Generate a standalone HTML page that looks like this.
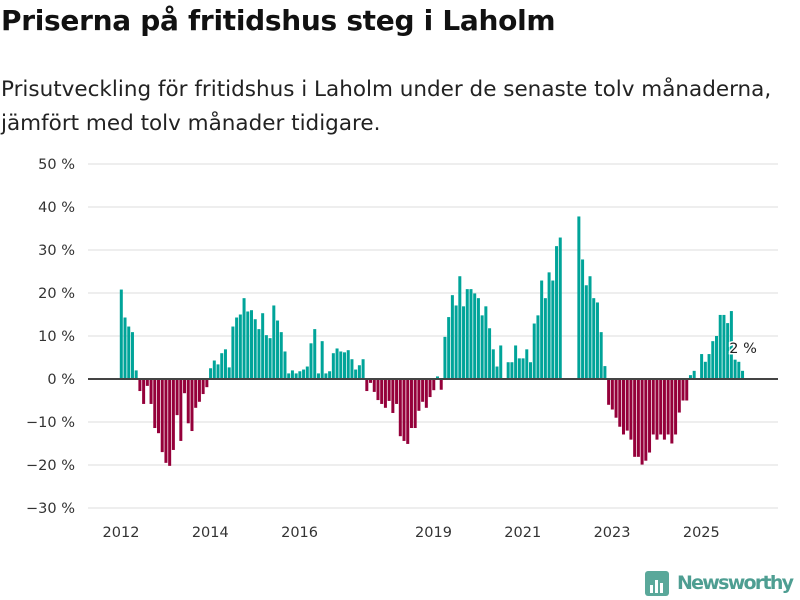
<!DOCTYPE html>
<html><head><meta charset="utf-8">
<style>
body{margin:0;width:800px;height:600px;background:#fff;font-family:"DejaVu Sans",sans-serif;overflow:hidden;position:relative}
h1{position:absolute;left:1px;top:4px;margin:0;font-size:28px;font-weight:bold;color:#111;letter-spacing:-0.3px}
p{position:absolute;left:1px;top:73px;margin:0;font-size:21.5px;line-height:34px;color:#222;width:790px;letter-spacing:0px}
</style></head><body>
<h1>Priserna på fritidshus steg i Laholm</h1>
<p>Prisutveckling för fritidshus i Laholm under de senaste tolv månaderna, jämfört med tolv månader tidigare.</p>
<svg id="chart" width="800" height="600" style="position:absolute;left:0;top:0"></svg>
<script>
const yTicks=[50,40,30,20,10,0,-10,-20,-30];
const xTickYears=[2012,2014,2016,2019,2021,2023,2025];
const startYear=2012;
const values=[20.8,14.3,12.2,10.9,2.0,-2.8,-5.8,-1.6,-5.8,-11.4,-12.6,-17,
-19.5,-20.2,-16.5,-8.4,-14.4,-3.3,-10.3,-12.1,-6.7,-5.3,-3.5,-1.9,
2.5,4.3,3.4,6.0,6.9,2.7,12.2,14.3,15.0,18.8,15.7,16.0,
13.9,11.6,15.3,10.2,9.5,17.1,13.6,10.9,6.4,1.3,2.0,1.3,
1.8,2.2,2.9,8.3,11.6,1.3,8.8,1.3,1.8,6.0,7.1,6.4,
6.2,6.7,4.6,2.2,3.2,4.6,-2.8,-0.9,-3.0,-4.9,-5.8,-6.7,
-5.1,-7.9,-5.8,-13.3,-14.4,-15.1,-11.4,-11.4,-7.4,-5.3,-6.7,-4.2,
-2.6,0.6,-2.5,9.8,14.4,19.5,17.1,23.9,16.9,20.9,20.9,19.9,
18.8,14.8,16.9,11.8,6.9,2.9,7.8,null,3.9,3.9,7.8,4.8,
4.8,6.9,3.9,12.9,14.8,22.9,18.8,24.8,22.9,30.9,32.9,null,
null,null,null,37.8,27.8,21.8,23.9,18.8,17.8,10.9,3.0,-6.0,
-7.1,-9.0,-11.1,-12.9,-12.0,-14.1,-18.1,-18.1,-19.9,-19.0,-17.1,-12.9,
-14.1,-12.9,-14.1,-12.9,-15.0,-12.9,-7.8,-5.0,-5.0,0.9,1.9,null,
5.8,4.0,5.8,8.8,10.0,14.9,14.9,13.0,15.8,4.5,4.0,1.9];
const lastLabel="2 %";
const svg=document.getElementById('chart');
const NS='http://www.w3.org/2000/svg';
const y0=379, pxPer=4.3, x0=121, step=3.72;
const yS=v=>y0-v*pxPer;
const xS=i=>x0+i*step;
const FF='DejaVu Sans, sans-serif';
function mk(t,a){const e=document.createElementNS(NS,t);for(const k in a)e.setAttribute(k,a[k]);svg.appendChild(e);return e;}
yTicks.forEach(t=>{
  const g=mk('line',{x1:88,x2:778,y1:yS(t),y2:yS(t),stroke:'#dedede','stroke-width':1});
  
  
  const l=mk('text',{x:75,y:yS(t)+5,'text-anchor':'end','font-size':14.5,fill:'#333','font-family':FF});
  l.textContent=(t<0?'\u2212'+(-t):t)+' %';
  
  
});
values.forEach((v,i)=>{
  if(v===null)return;
  const top=v>=0?yS(v):y0, h=Math.abs(v)*pxPer;
  const r=mk('rect',{x:xS(i)-1.2,y:top,width:3,height:h,fill:v>=0?'#00a499':'#95003a'});
  
  
});
const z=mk('line',{x1:88,x2:778,y1:y0,y2:y0,stroke:'#444','stroke-width':2});


xTickYears.forEach(yr=>{
  const x=xS((yr-startYear)*12);
  const l=mk('text',{x:x,y:537,'text-anchor':'middle','font-size':14.5,fill:'#333','font-family':FF});
  l.textContent=yr;
  
  
});
const li=values.length-1;
const lab=mk('text',{x:xS(li)-13,y:yS(values[li])-18,'font-size':14.5,fill:'#222',stroke:'#fff','stroke-width':3,'paint-order':'stroke','font-family':FF});
lab.textContent=lastLabel;


const lg=mk('g',{});


const ic=document.createElementNS(NS,'rect');
ic.setAttribute('x',645);ic.setAttribute('y',571);ic.setAttribute('width',24);ic.setAttribute('height',25);ic.setAttribute('rx',3);ic.setAttribute('fill','#5aa89a');lg.appendChild(ic);
[[650,585,3,8],[655,580,3,13],[660,583,3,10]].forEach(b=>{const r=document.createElementNS(NS,'rect');r.setAttribute('x',b[0]);r.setAttribute('y',b[1]);r.setAttribute('width',b[2]);r.setAttribute('height',b[3]);r.setAttribute('fill','#fff');lg.appendChild(r);});
const lt=document.createElementNS(NS,'text');
lt.setAttribute('x',677);lt.setAttribute('y',589);lt.setAttribute('font-size',19);lt.setAttribute('font-weight','bold');lt.setAttribute('fill','#4e9e92');lt.setAttribute('font-family',FF);lt.setAttribute('textLength',117);
lt.textContent='Newsworthy';lg.appendChild(lt);
</script>
</body></html>
